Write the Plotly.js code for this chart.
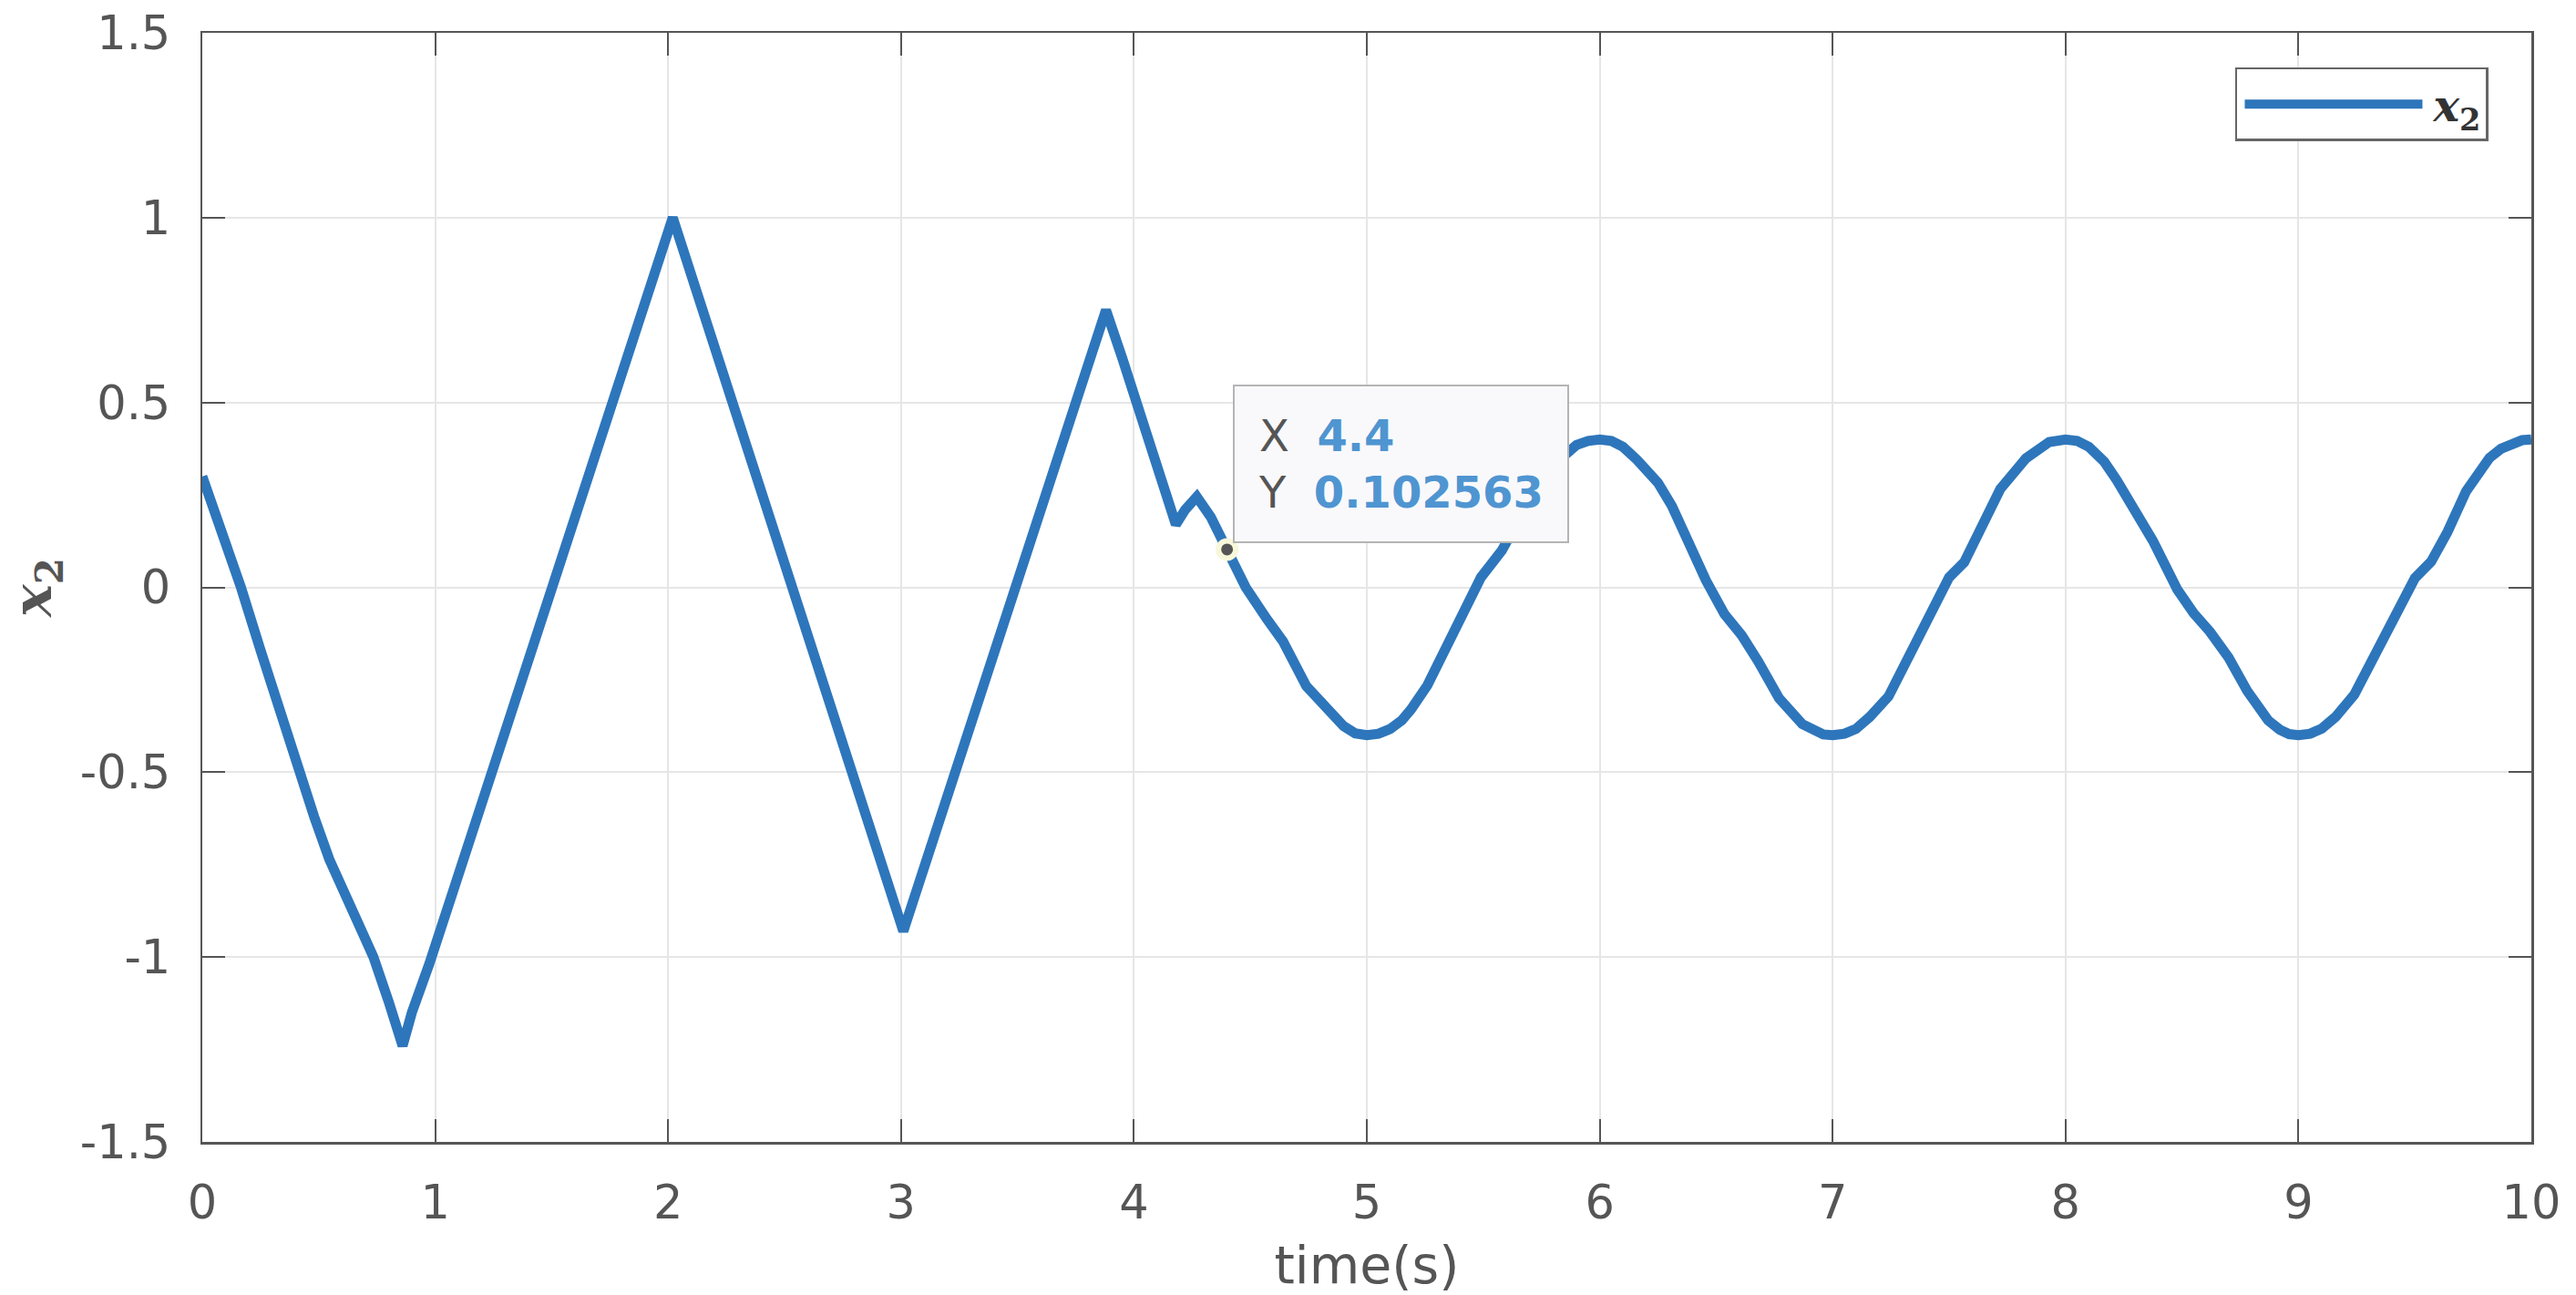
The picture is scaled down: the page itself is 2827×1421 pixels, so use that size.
<!DOCTYPE html>
<html>
<head>
<meta charset="utf-8">
<script src="https://cdn.plot.ly/plotly-3.0.1.min.js"></script>
<style>
  html, body { margin: 0; padding: 0; background: #ffffff; }
  #chart { width: 2827px; height: 1421px; }
</style>
</head>
<body>
<div id="chart"></div>
<script>
// ---- data ----
const time = [
  0.00, 0.08, 0.166, 0.25, 0.33, 0.414, 0.48, 0.545, 0.64, 0.735, 0.80, 0.86,
  0.90, 0.975, 1.10, 1.25, 1.40, 1.50, 1.60, 1.75, 1.90, 2.02,
  2.10, 2.25, 2.40, 2.50, 2.60, 2.75, 2.90, 3.01,
  3.10, 3.25, 3.40, 3.50, 3.65, 3.80, 3.88,
  3.95, 4.01, 4.10, 4.18, 4.22, 4.27, 4.33, 4.40, 4.48, 4.57, 4.64, 4.74, 4.85, 4.90, 4.95, 5.00,
  5.05, 5.10, 5.15, 5.19, 5.26, 5.32, 5.38, 5.43, 5.49, 5.58, 5.65, 5.72, 5.80, 5.85, 5.90, 5.95, 6.00,
  6.05, 6.10, 6.16, 6.25, 6.31, 6.365, 6.456, 6.535, 6.61, 6.68, 6.77, 6.87, 6.92, 6.96, 7.00,
  7.05, 7.10, 7.16, 7.24, 7.34, 7.435, 7.50, 7.565, 7.63, 7.72, 7.83, 7.88, 7.93, 8.00,
  8.05, 8.10, 8.166, 8.22, 8.28, 8.375, 8.48, 8.55, 8.62, 8.70, 8.78, 8.87, 8.92, 8.96, 9.00,
  9.05, 9.10, 9.16, 9.24, 9.34, 9.43, 9.50, 9.57, 9.64, 9.72, 9.82, 9.87, 9.92, 9.96, 10.00
];
const x2 = [
  0.30, 0.16, 0.00, -0.17, -0.33, -0.50, -0.62, -0.735, -0.87, -1.00, -1.12, -1.24,
  -1.15, -1.018, -0.777, -0.487, -0.197, -0.005, 0.19, 0.48, 0.77, 1.00,
  0.844, 0.55, 0.26, 0.064, -0.13, -0.42, -0.715, -0.93,
  -0.756, -0.467, -0.177, 0.016, 0.305, 0.595, 0.75,
  0.62, 0.50, 0.33, 0.17, 0.21, 0.245, 0.19, 0.10, 0.00, -0.085, -0.146, -0.267, -0.345, -0.375, -0.395, -0.40,
  -0.396, -0.383, -0.36, -0.33, -0.265, -0.19, -0.11, -0.06, 0.027, 0.10, 0.18, 0.26, 0.33, 0.36, 0.385, 0.396, 0.40,
  0.396, 0.38, 0.345, 0.283, 0.22, 0.143, 0.019, -0.072, -0.13, -0.20, -0.30, -0.37, -0.39, -0.398, -0.40,
  -0.396, -0.383, -0.35, -0.295, -0.17, -0.055, 0.027, 0.068, 0.15, 0.266, 0.349, 0.375, 0.393, 0.40,
  0.396, 0.38, 0.34, 0.29, 0.225, 0.126, -0.006, -0.07, -0.12, -0.19, -0.28, -0.36, -0.385, -0.397, -0.40,
  -0.396, -0.382, -0.35, -0.29, -0.17, -0.06, 0.025, 0.07, 0.15, 0.26, 0.35, 0.375, 0.392, 0.398, 0.40
];
const tipTime = [4.4];
const tipValue = [0.102563];

const xTickVals = [0, 1, 2, 3, 4, 5, 6, 7, 8, 9, 10];
const xTickLabels = ['0', '1', '2', '3', '4', '5', '6', '7', '8', '9', '10'];
const yTickVals = [-1.5, -1, -0.5, 0, 0.5, 1, 1.5];
const yTickLabels = ['-1.5', '-1', '-0.5', '0', '0.5', '1', '1.5'];

const seriesName = '<b><i>x</i><sub>2</sub></b>';

// ---- styling ----
const axisColor = '#555555';
const gridColor = '#e6e6e6';
const lineColor = '#2e76bb';
const tickFont = { family: 'DejaVu Sans', size: 51, color: '#555555' };

const traces = [
  {
    x: time, y: x2, type: 'scatter', mode: 'lines', name: seriesName,
    line: { color: lineColor, width: 11, shape: 'linear' },
    hoverinfo: 'skip'
  },
  {
    x: tipTime, y: tipValue, type: 'scatter', mode: 'markers', showlegend: false,
    marker: { color: '#555555', size: 19, line: { color: '#f7f7da', width: 6 } },
    hoverinfo: 'skip'
  }
];

const axisCommon = {
  showline: true, linecolor: axisColor, linewidth: 2.5, mirror: 'ticks',
  ticks: 'inside', ticklen: 25, tickwidth: 2, tickcolor: axisColor,
  showgrid: true, gridcolor: gridColor, gridwidth: 2,
  zeroline: false, tickfont: tickFont, fixedrange: true
};

const layout = {
  width: 2827, height: 1421,
  paper_bgcolor: '#ffffff', plot_bgcolor: '#ffffff',
  margin: { l: 222, r: 49, t: 36, b: 168 },
  showlegend: true,
  xaxis: Object.assign({}, axisCommon, {
    range: [0, 10], tickmode: 'array', tickvals: xTickVals, ticktext: xTickLabels,
    ticklabelstandoff: 20,
    title: { text: 'time(s)', font: { family: 'DejaVu Sans', size: 57, color: '#555555' }, standoff: 22 }
  }),
  yaxis: Object.assign({}, axisCommon, {
    range: [-1.5, 1.5], tickmode: 'array', tickvals: yTickVals, ticktext: yTickLabels,
    ticklabelstandoff: 22,
    title: { text: '<b><i>x</i><sub>2</sub></b>', font: { family: 'DejaVu Serif', size: 60, color: '#555555' }, standoff: 36 }
  }),
  legend: {
    x: 0.9816, y: 0.9688, xanchor: 'right', yanchor: 'top',
    bgcolor: '#ffffff', bordercolor: '#666666', borderwidth: 2.5,
    font: { family: 'DejaVu Serif', size: 48, color: '#333333' },
    itemwidth: 205, tracegroupgap: 0
  },
  annotations: [
    {
      x: tipTime[0], y: tipValue[0], xref: 'x', yref: 'y',
      xanchor: 'left', yanchor: 'bottom', xshift: 6, yshift: 7,
      showarrow: false, align: 'left',
      text: '<span style="color:#555555">X</span>\u00a0 <b style="color:#4f95d1">' + tipTime[0] + '</b><br>' +
            '<span style="color:#555555">Y</span>\u00a0 <b style="color:#4f95d1">' + tipValue[0] + '</b>',
      font: { family: 'DejaVu Sans', size: 48, color: '#555555' },
      bgcolor: '#f9f9fb', bordercolor: '#b4b4b4', borderwidth: 2, borderpad: 26
    }
  ]
};

Plotly.newPlot('chart', traces, layout, { displayModeBar: false, staticPlot: true }).then(function (gd) {
  // lengthen the legend line sample to match the long MATLAB legend line
  document.querySelectorAll('.legend .legendlines path').forEach(function (p) {
    p.setAttribute('d', 'M8,0h195');
  });
});
</script>
</body>
</html>
